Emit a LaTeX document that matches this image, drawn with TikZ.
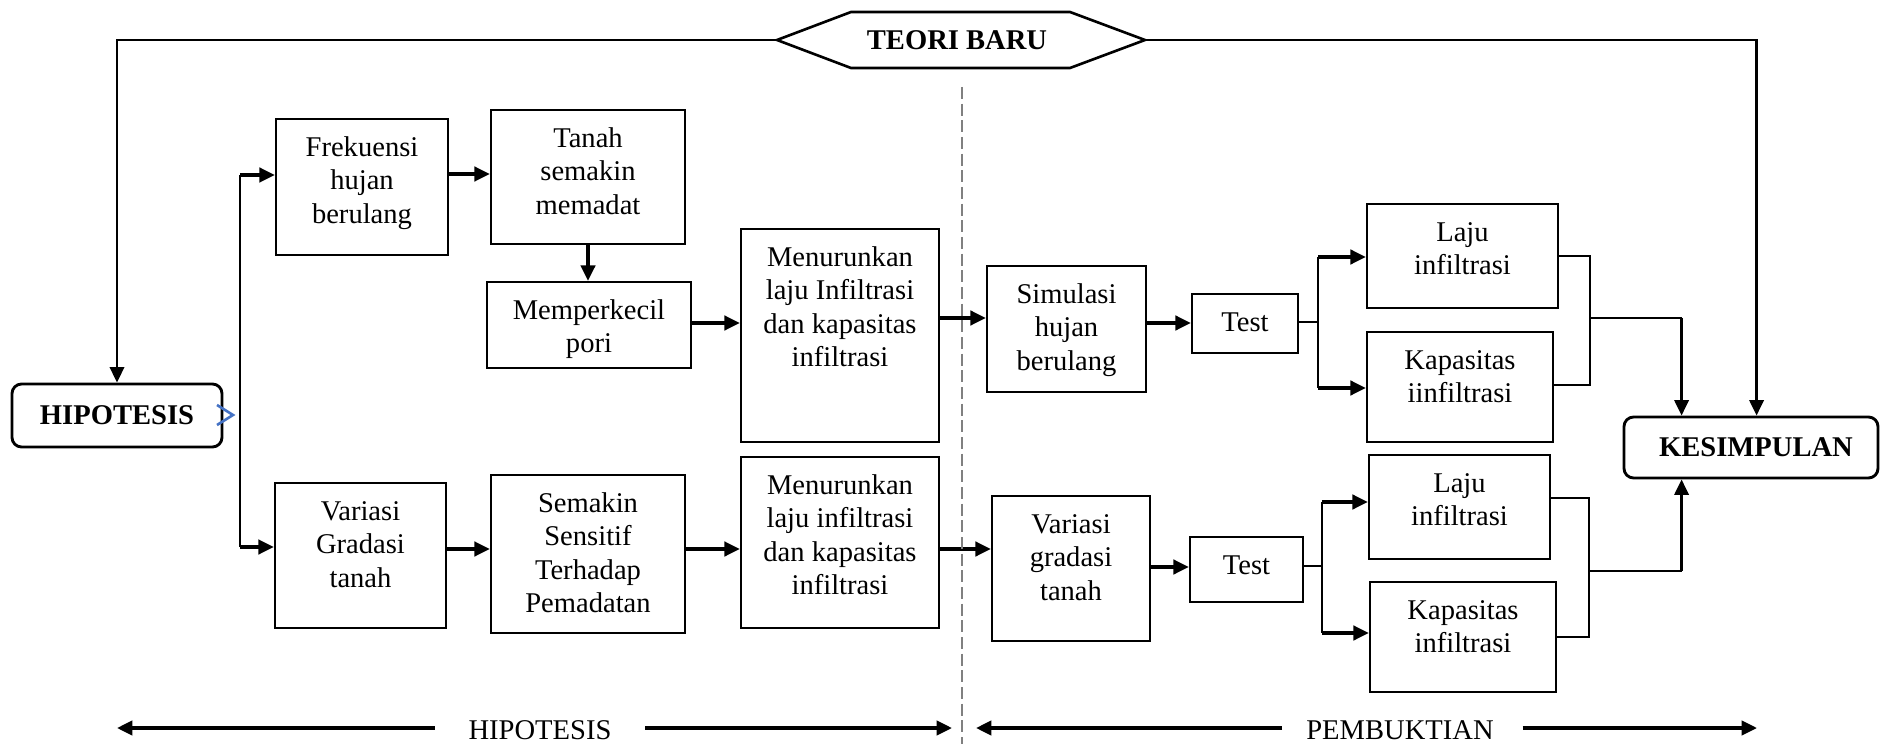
\documentclass[tikz,border=0pt]{standalone}
\usepackage{fontspec}
\setmainfont{Liberation Serif}[Ligatures=CommonOff]
\usetikzlibrary{arrows.meta,fit,calc}
\definecolor{chev}{RGB}{68,114,196}
\begin{document}
\begin{tikzpicture}[x=0.42pt,y=-0.42pt,
  box/.style={draw, line width=0.9pt, inner sep=0pt, rectangle},
  rbox/.style={draw, line width=1.2pt, inner sep=0pt, rounded corners=4pt},
  txt/.style={inner sep=0pt, align=center, anchor=north, yshift=-6.2pt, font=\fontsize{12}{14}\selectfont},
  lbl/.style={inner sep=0pt, font=\fontsize{12}{14}\selectfont},
  blbl/.style={inner sep=0pt, font=\fontsize{12}{14}\selectfont\bfseries},
  arr/.style={line width=1.4pt, -{Triangle[length=6.5pt,width=6pt]}},
  arrv/.style={line width=1.1pt, -{Triangle[length=6.5pt,width=6pt]}},
  ln/.style={line width=0.6pt},
  dashln/.style={line width=0.6pt, gray, dash pattern=on 5pt off 2pt}]
\useasboundingbox (0,0) rectangle (1881,744);
\clip (0,0) rectangle (1881,744);

% boxes
\node[rbox, fit={(12,384) (222,447)}] (hipo) {};
\node[blbl] (hipo-t) at (hipo.center) {HIPOTESIS};
\node[rbox, fit={(1624,417) (1878,478)}] (kes) {};
\node[blbl] (kes-t) at ($(kes.center)+(5,0)$) {KESIMPULAN};

\node[box, fit={(276,119) (448,255)}] (frek) {};
\node[box, fit={(491,110) (685,244)}] (tanah) {};
\node[box, fit={(487,282) (691,368)}] (memp) {};
\node[box, fit={(741,229) (939,442)}] (men1) {};
\node[box, fit={(987,266) (1146,392)}] (sim) {};
\node[box, fit={(1192,294) (1298,353)}] (test1) {};
\node[box, fit={(1367,204) (1558,308)}] (laju1) {};
\node[box, fit={(1367,332) (1553,442)}] (kap1) {};

\node[box, fit={(275,483) (446,628)}] (var) {};
\node[box, fit={(491,475) (685,633)}] (sem) {};
\node[box, fit={(741,457) (939,628)}] (men2) {};
\node[box, fit={(992,496) (1150,641)}] (var2) {};
\node[box, fit={(1190,537) (1303,602)}] (test2) {};
\node[box, fit={(1369,455) (1550,559)}] (laju2) {};
\node[box, fit={(1370,582) (1556,692)}] (kap2) {};

% texts
\node[txt] (frek-t) at (frek.north) {\strut Frekuensi\\hujan\\berulang};
\node[txt] (tanah-t) at (tanah.north) {\strut Tanah\\semakin\\memadat};
\node[txt] (memp-t) at (memp.north) {\strut Memperkecil\\pori};
\node[txt] (men1-t) at (men1.north) {\strut Menurunkan\\laju Infiltrasi\\dan kapasitas\\infiltrasi};
\node[txt] (sim-t) at (sim.north) {\strut Simulasi\\hujan\\berulang};
\node[txt] (test1-t) at (test1.north) {\strut Test};
\node[txt] (laju1-t) at (laju1.north) {\strut Laju\\infiltrasi};
\node[txt] (kap1-t) at (kap1.north) {\strut Kapasitas\\iinfiltrasi};
\node[txt] (var-t) at (var.north) {\strut Variasi\\Gradasi\\tanah};
\node[txt] (sem-t) at (sem.north) {\strut Semakin\\Sensitif\\Terhadap\\Pemadatan};
\node[txt] (men2-t) at (men2.north) {\strut Menurunkan\\laju infiltrasi\\dan kapasitas\\infiltrasi};
\node[txt] (var2-t) at (var2.north) {\strut Variasi\\gradasi\\tanah};
\node[txt] (test2-t) at (test2.north) {\strut Test};
\node[txt] (laju2-t) at (laju2.north) {\strut Laju\\infiltrasi};
\node[txt] (kap2-t) at (kap2.north) {\strut Kapasitas\\infiltrasi};

% TEORI BARU hexagon
\coordinate (hexL) at (777,40);
\coordinate (hexR) at (1145,40);
\draw[line width=1.1pt] (hexL) -- (851,12) -- (1070,12) -- (hexR) -- (1070,68) -- (851,68) -- cycle;
\node[blbl] (teori) at (957,40) {TEORI BARU};

% top connectors
\coordinate (kt) at ($(kes.north west)+(134,0)$);
\draw[arrv] (hexL) -| (hipo.north);
\draw[arrv] (hexR) -| (kt);

% blue chevron
\draw[line width=1.1pt, chev] (217,405) -- (233,415) -- (217,425);

% hipotesis branch
\coordinate (b1) at (240,175);
\coordinate (b2) at (240,547);
\draw[line width=0.8pt] (b1) -- (b2);
\draw[arr] (b1) -- (b1 -| frek.west);
\draw[arr] (b2) -- (b2 -| var.west);

% upper row
\draw[arr] (frek.east |- 0,174) -- (tanah.west |- 0,174);
\draw[arr] (tanah.south) -- (tanah.south |- memp.north);
\draw[arr] (memp.east |- 0,323) -- (men1.west |- 0,323);
\draw[arr] (men1.east |- 0,318) -- (sim.west |- 0,318);
\draw[arr] (sim.east |- 0,323) -- (test1.west |- 0,323);
\coordinate (t1b) at (1318,322);
\draw[ln] (test1.east |- t1b) -- (t1b);
\draw[ln] (t1b |- 0,257) -- (t1b |- 0,388);
\draw[arr] (t1b |- 0,257) -- (laju1.west |- 0,257);
\draw[arr] (t1b |- 0,388) -- (kap1.west |- 0,388);
\coordinate (j1) at (1590,318);
\draw[ln] (laju1.east |- 0,256) -| (j1 |- 0,385) -- (kap1.east |- 0,385);
\coordinate (k1) at ($(kes.north west)+(59,0)$);
\draw[ln] (j1) -- (j1 -| k1);
\draw[arrv] (j1 -| k1) -- (k1);

% lower row
\draw[arr] (var.east |- 0,549) -- (sem.west |- 0,549);
\draw[arr] (sem.east |- 0,549) -- (men2.west |- 0,549);
\draw[arr] (men2.east |- 0,549) -- (var2.west |- 0,549);
\draw[arr] (var2.east |- 0,567) -- (test2.west |- 0,567);
\coordinate (t2b) at (1322,566);
\draw[ln] (test2.east |- t2b) -- (t2b);
\draw[ln] (t2b |- 0,502) -- (t2b |- 0,633);
\draw[arr] (t2b |- 0,502) -- (laju2.west |- 0,502);
\draw[arr] (t2b |- 0,633) -- (kap2.west |- 0,633);
\coordinate (j2) at (1589,571);
\draw[ln] (laju2.east |- 0,498) -| (j2 |- 0,637) -- (kap2.east |- 0,637);
\coordinate (k2) at ($(kes.south west)+(59,0)$);
\draw[ln] (j2) -- (j2 -| k2);
\draw[arrv] (j2 -| k2) -- (k2);

% dashed divider
\coordinate (dT) at (962,87);
\coordinate (dB) at (962,744);
\draw[dashln] (dT) -- (dB);

% bottom labels
\node[lbl] (hl) at (540,730) {HIPOTESIS};
\coordinate (hL) at (117,728);
\coordinate (hR) at (952,728);
\draw[arr] ([xshift=-14pt]hl.west |- hL) -- (hL);
\draw[arr] ([xshift=14pt]hl.east |- hR) -- (hR);
\node[lbl] (pb) at (1400,730) {PEMBUKTIAN};
\coordinate (pL) at (976,728);
\coordinate (pR) at (1757,728);
\draw[arr] ([xshift=-10pt]pb.west |- pL) -- (pL);
\draw[arr] ([xshift=12pt]pb.east |- pR) -- (pR);
\end{tikzpicture}
\end{document}
